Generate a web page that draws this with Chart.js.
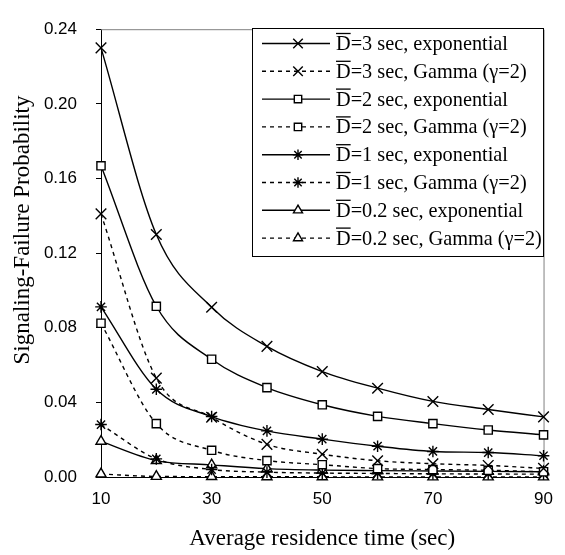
<!DOCTYPE html>
<html>
<head>
<meta charset="utf-8">
<script src="https://cdn.jsdelivr.net/npm/chart.js@4.4.0/dist/chart.umd.min.js"></script>
<style>
html,body{margin:0;padding:0;background:#fff;}
#wrap{width:565px;height:555px;}
</style>
</head>
<body>
<div id="wrap"><canvas id="c" width="565" height="555"></canvas></div>
<script>
// ---- data ----
const xValues = [10, 20, 30, 40, 50, 60, 70, 80, 90];
const d3Exponential  = [0.230, 0.130, 0.091, 0.070, 0.0565, 0.0476, 0.0405, 0.0362, 0.0322];
const d3Gamma        = [0.141, 0.053, 0.032, 0.0175, 0.0122, 0.0087, 0.0071, 0.0062, 0.0046];
const d2Exponential  = [0.1668, 0.0915, 0.0631, 0.0479, 0.0387, 0.0325, 0.0286, 0.0252, 0.0226];
const d2Gamma        = [0.0824, 0.0286, 0.0143, 0.0088, 0.0066, 0.0045, 0.0040, 0.0036, 0.0028];
const d1Exponential  = [0.0912, 0.0470, 0.0324, 0.0247, 0.0203, 0.0165, 0.0137, 0.0131, 0.0114];
const d1Gamma        = [0.0281, 0.0097, 0.0040, 0.0026, 0.0021, 0.0019, 0.0017, 0.0016, 0.0015];
const d02Exponential = [0.0191, 0.0088, 0.0065, 0.0045, 0.0037, 0.0034, 0.0032, 0.0030, 0.0028];
const d02Gamma       = [0.0016, 0.0003, 0.0002, 0.0001, 0.0001, 0.0000, 0.0000, 0.0000, 0.0000];
const seriesLabels = [
  'D=3 sec, exponential', 'D=3 sec, Gamma (\u03B3=2)',
  'D=2 sec, exponential', 'D=2 sec, Gamma (\u03B3=2)',
  'D=1 sec, exponential', 'D=1 sec, Gamma (\u03B3=2)',
  'D=0.2 sec, exponential', 'D=0.2 sec, Gamma (\u03B3=2)'
];
const xAxisTitle = 'Average residence time (sec)';
const yAxisTitle = 'Signaling-Failure Probability';

// ---- styles ----
const seriesValues = [d3Exponential, d3Gamma, d2Exponential, d2Gamma, d1Exponential, d1Gamma, d02Exponential, d02Gamma];
const markerStyles = ['crossRot', 'crossRot', 'rect', 'rect', 'star', 'star', 'triangle', 'triangle'];
const markerRadius = {crossRot: 7.5, rect: 5.8, star: 5.8, triangle: 5.8};

const datasets = seriesValues.map((vals, i) => ({
  label: seriesLabels[i],
  data: vals.map((v, k) => ({x: xValues[k], y: v})),
  borderColor: '#000',
  borderWidth: 1.4,
  borderDash: i % 2 === 1 ? [4, 4] : [],
  pointStyle: markerStyles[i],
  pointRadius: markerRadius[markerStyles[i]],
  pointHoverRadius: markerRadius[markerStyles[i]],
  pointBorderColor: '#000',
  pointBackgroundColor: (markerStyles[i] === 'rect' || markerStyles[i] === 'triangle') ? '#fff' : 'rgba(0,0,0,0)',
  pointBorderWidth: 1.4,
  cubicInterpolationMode: 'monotone',
  fill: false,
  clip: false
}));

const framePlugin = {
  id: 'frame',
  beforeDatasetsDraw(chart) {
    const a = chart.chartArea, ctx = chart.ctx;
    ctx.save();
    ctx.strokeStyle = '#808080';
    ctx.lineWidth = 1;
    ctx.beginPath();
    ctx.moveTo(a.left, a.top + 0.5);
    ctx.lineTo(a.right + 0.5, a.top + 0.5);
    ctx.lineTo(a.right + 0.5, a.bottom);
    ctx.stroke();
    ctx.restore();
  }
};

const yTitlePlugin = {
  id: 'yTitle',
  afterDraw(chart) {
    const ctx = chart.ctx;
    ctx.save();
    ctx.translate(23, 230);
    ctx.rotate(-Math.PI / 2);
    ctx.font = '23px "Liberation Serif", "Times New Roman", serif';
    ctx.fillStyle = '#000';
    ctx.textAlign = 'center';
    ctx.textBaseline = 'middle';
    ctx.fillText(yAxisTitle, 0, 0);
    ctx.restore();
  }
};

const legendPlugin = {
  id: 'boxLegend',
  afterDraw(chart) {
    const ctx = chart.ctx;
    const L = 252, T = 28, R = 543, B = 256;
    ctx.save();
    ctx.fillStyle = '#fff';
    ctx.fillRect(L, T, R - L, B - T);
    ctx.strokeStyle = '#000';
    ctx.lineWidth = 1;
    ctx.strokeRect(L + 0.5, T + 0.5, R - L, B - T);
    ctx.font = '20.3px "Liberation Serif", "Times New Roman", serif';
    ctx.textBaseline = 'alphabetic';
    ctx.textAlign = 'left';
    chart.data.datasets.forEach((ds, i) => {
      const y = 43.5 + i * 27.8;
      ctx.strokeStyle = '#000';
      ctx.lineWidth = ds.borderWidth;
      ctx.setLineDash(ds.borderDash);
      ctx.beginPath();
      ctx.moveTo(262, y);
      ctx.lineTo(330, y);
      ctx.stroke();
      ctx.setLineDash([]);
      ctx.fillStyle = ds.pointBackgroundColor;
      ctx.strokeStyle = '#000';
      ctx.lineWidth = ds.pointBorderWidth;
      Chart.helpers.drawPoint(ctx, {pointStyle: ds.pointStyle, radius: ds.pointRadius * 0.9, rotation: 0, borderWidth: ds.pointBorderWidth}, 298, y);
      ctx.fillStyle = '#000';
      const tx = 336, base = y + 6.5;
      ctx.fillText(ds.label, tx, base);
      const dw = ctx.measureText('D').width;
      ctx.lineWidth = 1.3;
      ctx.beginPath();
      ctx.moveTo(tx, base - 16.5);
      ctx.lineTo(tx + dw, base - 16.5);
      ctx.stroke();
    });
    ctx.restore();
  }
};

new Chart(document.getElementById('c'), {
  type: 'line',
  data: {datasets},
  plugins: [framePlugin, yTitlePlugin, legendPlugin],
  options: {
    responsive: false,
    animation: false,
    events: [],
    layout: {padding: {top: 13, right: 10, bottom: 0, left: 0}},
    plugins: {legend: {display: false}, tooltip: {enabled: false}},
    scales: {
      x: {
        type: 'linear',
        min: 10, max: 90,
        afterFit(scale) { scale.height = 78; },
        ticks: {stepSize: 20, padding: 12, color: '#000', font: {family: '"Liberation Sans", Arial, sans-serif', size: 17}},
        grid: {drawOnChartArea: false, drawTicks: false},
        border: {display: true, color: '#000', width: 1},
        title: {display: true, text: xAxisTitle, color: '#000', padding: {top: 0, bottom: 2},
                font: {family: '"Liberation Serif", "Times New Roman", serif', size: 23}}
      },
      y: {
        type: 'linear',
        min: 0, max: 0.24,
        afterFit(scale) { scale.width = 101; },
        ticks: {stepSize: 0.04, padding: 19, color: '#000', callback: v => v.toFixed(2),
                font: {family: '"Liberation Sans", Arial, sans-serif', size: 17}},
        grid: {drawOnChartArea: false, drawTicks: true, tickLength: 5, tickColor: '#000'},
        border: {display: true, color: '#000', width: 1}
      }
    }
  }
});
</script>
</body>
</html>
